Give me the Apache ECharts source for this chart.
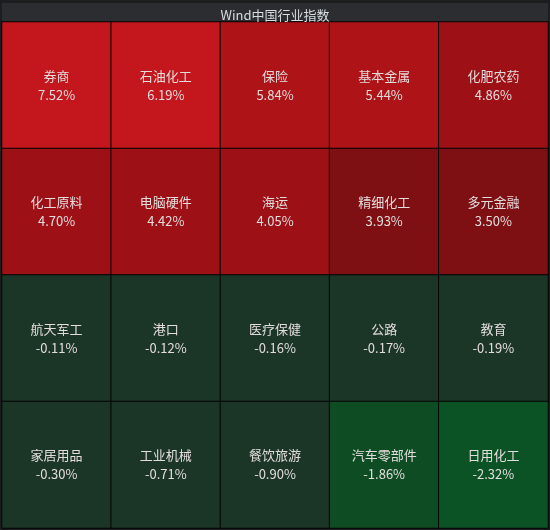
<!DOCTYPE html>
<html>
<head>
    <meta charset="UTF-8">
    <title>Wind中国行业指数</title>
    <script src="https://cdn.jsdelivr.net/npm/echarts@6/dist/echarts.min.js"></script>
    <style>
        html, body { margin: 0; padding: 0; background: #1c1d1f; }
    </style>
</head>
<body>
<div id="main" style="width:550px; height:530px;"></div>
<script>
    // 行业名称与涨跌幅(%)，按行排列
    var names = [
        '券商', '石油化工', '保险', '基本金属', '化肥农药',
        '化工原料', '电脑硬件', '海运', '精细化工', '多元金融',
        '航天军工', '港口', '医疗保健', '公路', '教育',
        '家居用品', '工业机械', '餐饮旅游', '汽车零部件', '日用化工'
    ];
    var changes = [
        7.52, 6.19, 5.84, 5.44, 4.86,
        4.70, 4.42, 4.05, 3.93, 3.50,
        -0.11, -0.12, -0.16, -0.17, -0.19,
        -0.30, -0.71, -0.90, -1.86, -2.32
    ];
    var cols = ['c1', 'c2', 'c3', 'c4', 'c5'];
    var rows = ['r1', 'r2', 'r3', 'r4'];

    var data = changes.map(function (v, i) {
        return {name: names[i], value: [i % 5, Math.floor(i / 5), v]};
    });

    var chart = echarts.init(document.getElementById('main'), null, {renderer: 'canvas'});
    var option = {
        backgroundColor: '#1c1d1f',
        animation: false,
        graphic: [{
            type: 'rect',
            shape: {x: 2, y: 3, width: 546, height: 19},
            style: {fill: '#2c2d30'},
            z: 0
        }],
        title: {
            text: 'Wind中国行业指数',
            left: 'center',
            top: 4,
            textStyle: {
                color: '#d6dde3',
                fontSize: 13,
                fontWeight: 'normal',
                fontFamily: 'Noto Sans CJK SC'
            }
        },
        grid: {left: 2, right: 2, top: 22, bottom: 2},
        xAxis: {type: 'category', data: cols, show: false},
        yAxis: {type: 'category', data: rows, show: false, inverse: true},
        visualMap: {
            show: false,
            type: 'piecewise',
            dimension: 2,
            pieces: [
                {min: 6, color: '#c3161d'},
                {min: 5, max: 6, color: '#ae1318'},
                {min: 4, max: 5, color: '#9c1016'},
                {min: 0, max: 4, color: '#7e0f12'},
                {min: -1, max: 0, color: '#1b3527'},
                {min: -2, max: -1, color: '#0e4c23'},
                {max: -2, color: '#0b5325'}
            ]
        },
        series: [{
            type: 'heatmap',
            data: data,
            itemStyle: {borderColor: '#050505', borderWidth: 1},
            label: {
                show: true,
                color: '#e2dcdc',
                fontSize: 13,
                lineHeight: 19,
                fontFamily: 'Noto Sans CJK SC',
                formatter: function (p) {
                    return p.name + '\n' + p.value[2].toFixed(2) + '%';
                }
            },
            emphasis: {disabled: true}
        }]
    };
    chart.setOption(option);
</script>
</body>
</html>
